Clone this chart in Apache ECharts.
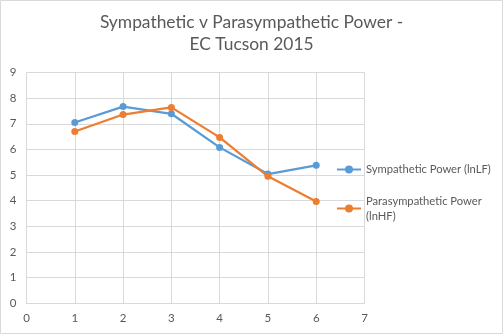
<!DOCTYPE html>
<html><head><meta charset="utf-8">
<script src="https://cdn.jsdelivr.net/npm/echarts@6/dist/echarts.min.js"></script>
<style>html,body{margin:0;padding:0;background:#fff}#c{width:503px;height:334px}</style>
</head><body><div id="c"></div>
<script>
const titleText = 'Sympathetic v Parasympathetic Power -\nEC Tucson 2015';
const xValues = [1, 2, 3, 4, 5, 6];
const sympathetic = [7.05, 7.67, 7.39, 6.08, 5.04, 5.38];
const parasympathetic = [6.70, 7.36, 7.64, 6.47, 4.95, 3.97];
const seriesNames = ['Sympathetic Power (lnLF)', 'Parasympathetic Power (lnHF)'];
const colors = ['#5b9bd5', '#ed7d31'];

const font = 'Lato, "Open Sans", sans-serif';
const chart = echarts.init(document.getElementById('c'), null, {renderer: 'canvas'});
const pairs = (ys) => xValues.map((x, i) => [x, ys[i]]);
chart.setOption({
  animation: false,
  color: colors,
  title: {
    text: titleText, left: 'center', top: 11, padding: 0,
    textStyle: {fontFamily: font, fontSize: 17.4, fontWeight: 'normal', color: '#595959', lineHeight: 22}
  },
  graphic: [{type: 'rect', shape: {x: 0.5, y: 0.5, width: 502, height: 333}, style: {fill: 'none', stroke: '#d9d9d9', lineWidth: 1}, silent: true}],
  legend: [
    {data: [seriesNames[0]], orient: 'vertical', left: 336, top: 164, padding: 0, itemWidth: 24, itemHeight: 10,
      textStyle: {fontFamily: font, fontSize: 11.2, color: '#595959'}},
    {data: [seriesNames[1]], orient: 'vertical', left: 336, top: 186, padding: 0, itemWidth: 24, itemHeight: 10,
      formatter: () => 'Parasympathetic Power\n(lnHF)',
      textStyle: {fontFamily: font, fontSize: 11.2, color: '#595959', lineHeight: 15, padding: [15, 0, 0, 0]}}
  ],
  grid: {left: 26.5, right: 138.5, top: 72.5, bottom: 30.7, containLabel: false},
  xAxis: {
    type: 'value', min: 0, max: 7, interval: 1,
    axisLine: {lineStyle: {color: '#d9d9d9'}}, axisTick: {show: false},
    axisLabel: {color: '#595959', fontFamily: font, fontSize: 11.5, margin: 9},
    splitLine: {show: true, lineStyle: {color: '#d9d9d9'}}
  },
  yAxis: {
    type: 'value', min: 0, max: 9, interval: 1,
    axisLine: {show: false}, axisTick: {show: false},
    axisLabel: {color: '#595959', fontFamily: font, fontSize: 11.5, margin: 10},
    splitLine: {show: true, lineStyle: {color: '#d9d9d9'}}
  },
  series: [
    {name: seriesNames[0], type: 'line', data: pairs(sympathetic), symbol: 'circle', symbolSize: 7,
      lineStyle: {width: 2.25}, itemStyle: {color: colors[0]}},
    {name: seriesNames[1], type: 'line', data: pairs(parasympathetic), symbol: 'circle', symbolSize: 7,
      lineStyle: {width: 2.25}, itemStyle: {color: colors[1]}}
  ]
});
</script></body></html>
